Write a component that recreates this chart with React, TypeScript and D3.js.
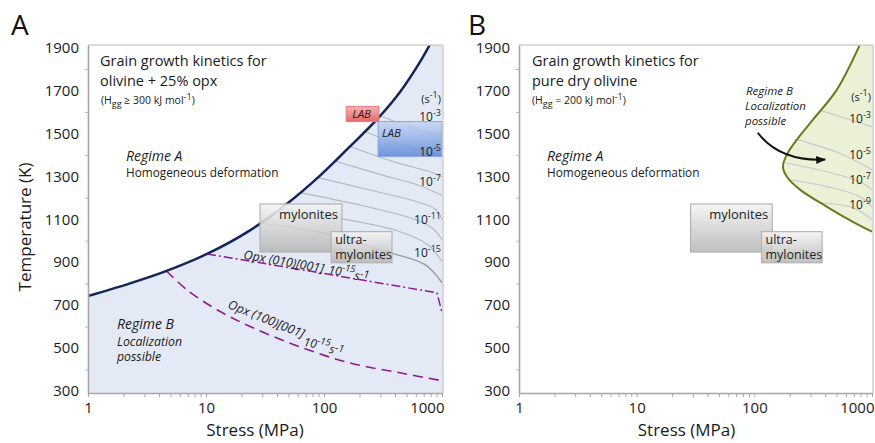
import { useEffect, useRef } from "react";
import * as d3 from "d3";

type Pt = [number, number];

// axis values
const stressLabels = [1, 10, 100, 1000];
const tempLabels = [300, 500, 700, 900, 1100, 1300, 1500, 1700, 1900];
const tempTicks = d3.range(300, 2000, 100);

// panel A: boundary between regime A and B (stress MPa, T K)
const boundaryA: Pt[] = [
  [1, 742], [2.27, 801], [4.58, 858], [10.2, 938], [23.6, 1048], [48.6, 1172],
  [92.5, 1303], [166, 1439], [281, 1565], [441, 1693], [651, 1833], [873, 1959],
];
// strain-rate contours, panel A
const contoursA: Pt[][] = [
  [[298, 1582], [535, 1530], [1000, 1485]],
  [[222, 1509], [441, 1448], [1000, 1396]],
  [[166, 1439], [400, 1366], [791, 1321], [1000, 1298]],
  [[124, 1371], [298, 1309], [651, 1256], [1000, 1210]],
  [[89, 1294], [245, 1236], [651, 1177], [890, 1144], [1000, 1098]],
  [[62.6, 1224], [202, 1166], [535, 1107], [823, 1060], [1000, 1004]],
  [[42.4, 1149], [137, 1104], [441, 1042], [761, 981], [1000, 902]],
  [[28.7, 1082], [92.5, 1038], [362, 944], [718, 888], [1000, 804]],
];
const rateLabelsA = ["-3", "-5", "-7", "-11", "-15"];
const rateLabelTA = [1558, 1395, 1255, 1078, 924];

// opx slip-system lines, panel A
const opx010: Pt[] = [[10.2, 938], [80, 856], [907, 757], [1000, 664]];
const opx100: Pt[] = [
  [4.6, 860], [6.9, 771], [12.4, 678], [25, 594], [62.6, 505],
  [166, 430], [441, 384], [1000, 347],
];

// LAB boxes (stress range, T range)
const labRed = { s: [154, 292], t: [1555, 1625] };
const labBlue = { s: [287, 1000], t: [1392, 1555] };

// mylonite fields (same in both panels)
const mylonites = { s: [28.7, 142], t: [947, 1171] };
const ultramylonites = { s: [115, 377], t: [897, 1042] };

// panel B: regime B pocket
const boundaryB: Pt[] = [
  [789, 1914], [503, 1704], [315, 1564], [230, 1471], [189, 1401],
  [175, 1345], [189, 1298], [244, 1238], [414, 1158], [688, 1088], [1000, 1042],
];
const contoursB: Pt[][] = [
  [[375, 1606], [1000, 1531]],
  [[235, 1471], [566, 1401], [1000, 1331]],
  [[182, 1363], [414, 1321], [789, 1275], [1000, 1238]],
  [[201, 1284], [414, 1252], [789, 1205], [1000, 1158]],
  [[347, 1177], [688, 1154], [1000, 1098]],
];
const rateLabelsB = ["-3", "-5", "-7", "-9"];
const rateLabelTB = [1548, 1381, 1264, 1148];

const y = d3.scaleLinear().domain([290, 1912]).range([393, 45]);
const xA = d3.scaleLog().domain([1, 1000]).range([88, 442]);
const xB = d3.scaleLog().domain([1, 1000]).range([519, 872]);

const FONT = '"Open Sans", "Noto Sans", sans-serif';

function Axes({ x }: { x: d3.ScaleLogarithmic<number, number> }) {
  const gx = useRef<SVGGElement | null>(null);
  const gy = useRef<SVGGElement | null>(null);

  useEffect(() => {
    const axX = d3.axisBottom(x)
      .tickValues(x.ticks())
      .tickFormat(d => (stressLabels.includes(+d) ? String(d) : ""))
      .tickSize(4)
      .tickSizeOuter(0)
      .tickPadding(5);
    const sx = d3.select(gx.current!)
      .attr("transform", `translate(0,${y.range()[0]})`)
      .call(axX);
    sx.select(".domain").attr("stroke", "#a6a6a6").attr("stroke-width", 1.6);
    sx.selectAll(".tick line").attr("stroke", "#a6a6a6");
    sx.selectAll(".tick text")
      .attr("font-size", 15)
      .attr("font-family", FONT)
      .attr("fill", "#1a1a1a");
    sx.selectAll<SVGTextElement, number>(".tick text")
      .filter(d => d === 1000)
      .attr("text-anchor", "end")
      .attr("dx", 2);

    const axY = d3.axisLeft(y)
      .tickValues(tempTicks)
      .tickFormat(d => (tempLabels.includes(+d) ? String(d) : ""))
      .tickSize(3)
      .tickSizeOuter(0)
      .tickPadding(6);
    const sy = d3.select(gy.current!)
      .attr("transform", `translate(${x.range()[0]},0)`)
      .call(axY);
    sy.select(".domain").attr("stroke", "#a6a6a6").attr("stroke-width", 1.6);
    sy.selectAll<SVGLineElement, number>(".tick line")
      .attr("stroke", d => (tempLabels.includes(d) ? "none" : "#b5b5b5"));
    sy.selectAll(".tick text")
      .attr("font-size", 15)
      .attr("font-family", FONT)
      .attr("fill", "#1a1a1a");
  }, [x]);

  return (
    <g>
      <g ref={gx} />
      <g ref={gy} />
    </g>
  );
}

function Rate({ x, yy, exp }: { x: number; yy: number; exp: string }) {
  return (
    <text x={x} y={yy} textAnchor="end" fontSize={12} fill="#222">
      10<tspan dy={-5} fontSize={9}>{exp}</tspan>
    </text>
  );
}

function Unit({ x, yy }: { x: number; yy: number }) {
  return (
    <text x={x} y={yy} textAnchor="end" fontSize={11} fill="#222">
      (s<tspan dy={-5} fontSize={9}>-1</tspan>
      <tspan dy={5}>)</tspan>
    </text>
  );
}

function Box({ x, b, id }: { x: d3.ScaleLogarithmic<number, number>; b: { s: number[]; t: number[] }; id: string }) {
  return (
    <rect
      x={x(b.s[0])}
      y={y(b.t[1])}
      width={x(b.s[1]) - x(b.s[0])}
      height={y(b.t[0]) - y(b.t[1])}
      fill={`url(#${id})`}
      stroke="#b3b3b3"
      strokeWidth={1.2}
    />
  );
}

function RateText({ x, yy, angle }: { x: number; yy: number; angle: number }) {
  return (
    <text transform={`translate(${x},${yy}) rotate(${angle})`} fontSize={12} fontStyle="italic" fill="#222">
      10<tspan dy={-5} fontSize={9.5}>-15</tspan>
      <tspan dy={7}>s</tspan>
      <tspan dy={-3} fontSize={10.5}>-1</tspan>
    </text>
  );
}

export default function App() {
  const top = y.range()[1];
  const bottom = y.range()[0];

  const lineA = d3.line<Pt>().x(d => xA(d[0])).y(d => y(d[1])).curve(d3.curveCatmullRom.alpha(0.5));
  const lineB = d3.line<Pt>().x(d => xB(d[0])).y(d => y(d[1])).curve(d3.curveCatmullRom.alpha(0.5));
  const lineALin = d3.line<Pt>().x(d => xA(d[0])).y(d => y(d[1]));

  const fillA =
    lineA(boundaryA) +
    `L${xA(1000) + 2},${y(1960)}L${xA(1000) + 2},${bottom}L${xA(1)},${bottom}Z`;
  const fillB = lineB(boundaryB) + `L${xB(1000) + 2},${y(1042)}L${xB(1000) + 2},${y(1914)}Z`;

  const arrowPath = `M${xB(107)},${y(1503)}Q${xB(165)},${y(1368)} ${xB(400)},${y(1378)}`;

  return (
    <svg
      width={875}
      height={443}
      style={{ position: "absolute", left: 0, top: 0, background: "#fff" }}
      fontFamily={FONT}
    >
      <defs>
        <clipPath id="clipA">
          <rect x={xA(1)} y={top} width={xA(1000) - xA(1) + 1} height={bottom - top} />
        </clipPath>
        <clipPath id="clipB">
          <rect x={xB(1)} y={top} width={xB(1000) - xB(1) + 1} height={bottom - top} />
        </clipPath>
        <linearGradient id="grayBox" x1="0" y1="0" x2="0" y2="1">
          <stop offset="0" stopColor="#f4f4f4" stopOpacity={0.9} />
          <stop offset="1" stopColor="#b4b4b4" stopOpacity={0.85} />
        </linearGradient>
        <linearGradient id="redBox" x1="0" y1="0" x2="0" y2="1">
          <stop offset="0" stopColor="#f6b3b3" />
          <stop offset="1" stopColor="#e26a6a" />
        </linearGradient>
        <linearGradient id="blueBox" x1="0" y1="0" x2="0" y2="1">
          <stop offset="0" stopColor="#c6d6f2" stopOpacity={0.85} />
          <stop offset="1" stopColor="#5a86d8" stopOpacity={0.85} />
        </linearGradient>
        <marker id="arrow" markerUnits="userSpaceOnUse" markerWidth={10} markerHeight={8} refX={9} refY={4} orient="auto">
          <path d="M0,0 L10,4 L0,8 Z" fill="#111" />
        </marker>
      </defs>

      <text x={11} y={35} fontSize={28} fill="#111">A</text>
      <text x={468} y={35} fontSize={28} fill="#111">B</text>

      {/* ---------- Panel A ---------- */}
      <g clipPath="url(#clipA)">
        <path d={fillA} fill="#e4eaf5" />
        {contoursA.map((c, i) => (
          <path key={i} d={lineA(c) || ""} fill="none" stroke={i >= 7 ? "#9a9ca4" : "#b4b8c2"} strokeWidth={i >= 7 ? 1.4 : 1.1} />
        ))}
        <path d={lineALin(opx010) || ""} fill="none" stroke="#8e1b8e" strokeWidth={1.5} strokeDasharray="9,3,2,3" />
        <path d={lineA(opx100) || ""} fill="none" stroke="#8e1b8e" strokeWidth={1.6} strokeDasharray="10,6" />
        <path d={lineA(boundaryA) || ""} fill="none" stroke="#142659" strokeWidth={2.5} />
        <rect
          x={xA(labRed.s[0])}
          y={y(labRed.t[1])}
          width={xA(labRed.s[1]) - xA(labRed.s[0])}
          height={y(labRed.t[0]) - y(labRed.t[1])}
          fill="url(#redBox)"
          stroke="#e77a7a"
        />
        <rect
          x={xA(labBlue.s[0])}
          y={y(labBlue.t[1])}
          width={xA(labBlue.s[1]) - xA(labBlue.s[0])}
          height={y(labBlue.t[0]) - y(labBlue.t[1])}
          fill="url(#blueBox)"
          stroke="#86a6e2"
        />
        <Box x={xA} b={mylonites} id="grayBox" />
        <Box x={xA} b={ultramylonites} id="grayBox" />
      </g>
      <line x1={xA(1)} x2={xA(1000) + 1} y1={top} y2={top} stroke="#cfcfcf" strokeWidth={1.5} />
      <line x1={xA(1000) + 1} x2={xA(1000) + 1} y1={top} y2={bottom} stroke="#cfcfcf" strokeWidth={1.5} />
      <Axes x={xA} />

      <text x={xA(labRed.s[0]) + 6} y={y(labRed.t[0]) - 4} fontSize={11.5} fontStyle="italic" fill="#3a1010">LAB</text>
      <text x={xA(labBlue.s[0]) + 4} y={y(labBlue.t[1]) + 15} fontSize={11.5} fontStyle="italic" fill="#1a1a2a">LAB</text>

      <Unit x={441} yy={y(1642)} />
      {rateLabelsA.map((e, i) => (
        <Rate key={e} x={441} yy={y(rateLabelTA[i])} exp={e} />
      ))}

      <text x={xA(mylonites.s[1]) - 4} y={y(mylonites.t[1]) + 15} textAnchor="end" fontSize={13} fill="#222">mylonites</text>
      <text x={xA(ultramylonites.s[0]) + 4} y={y(ultramylonites.t[1]) + 12} fontSize={12.5} fill="#222">ultra-</text>
      <text x={xA(ultramylonites.s[0]) + 4} y={y(ultramylonites.t[1]) + 27} fontSize={12.5} fill="#222">mylonites</text>

      <text transform={`translate(${xA(20.6)},${y(916)}) rotate(10)`} fontSize={12.5} fontStyle="italic" fill="#222">Opx (010)[001]</text>
      <RateText x={xA(108)} yy={y(846)} angle={8} />
      <text transform={`translate(${xA(15.1)},${y(687)}) rotate(22)`} fontSize={12.5} fontStyle="italic" fill="#222">Opx (100)[001]</text>
      <RateText x={xA(66.4)} yy={y(510)} angle={11} />

      <text x={100} y={66} fontSize={14.5} fill="#1a1a1a">Grain growth kinetics for</text>
      <text x={100} y={86} fontSize={14.5} fill="#1a1a1a">olivine + 25% opx</text>
      <text x={101} y={104} fontSize={10.5} fill="#1a1a1a">
        (H<tspan dy={3} fontSize={9}>gg</tspan>
        <tspan dy={-3}> ≥ 300 kJ mol</tspan>
        <tspan dy={-4} fontSize={9}>-1</tspan>
        <tspan dy={4}>)</tspan>
      </text>
      <text x={126} y={161} fontSize={14} fontStyle="italic" fill="#1a1a1a">Regime A</text>
      <text x={126} y={177} fontSize={11.8} fill="#1a1a1a">Homogeneous deformation</text>
      <text x={117} y={329} fontSize={14} fontStyle="italic" fill="#1a1a1a">Regime B</text>
      <text x={117} y={346} fontSize={12.3} fontStyle="italic" fill="#1a1a1a">Localization</text>
      <text x={117} y={361} fontSize={12.3} fontStyle="italic" fill="#1a1a1a">possible</text>

      <text transform="translate(31,227) rotate(-90)" textAnchor="middle" fontSize={17} fill="#1a1a1a">Temperature (K)</text>
      <text x={(xA(1) + xA(1000)) / 2 - 10} y={436} textAnchor="middle" fontSize={17} fill="#1a1a1a">Stress (MPa)</text>

      {/* ---------- Panel B ---------- */}
      <g clipPath="url(#clipB)">
        <path d={fillB} fill="#ebf1d7" />
        {contoursB.map((c, i) => (
          <path key={i} d={lineB(c) || ""} fill="none" stroke="#c4c8cf" strokeWidth={1.1} />
        ))}
        <path d={lineB(boundaryB) || ""} fill="none" stroke="#6a7a1c" strokeWidth={2} />
        <Box x={xB} b={mylonites} id="grayBox" />
        <Box x={xB} b={ultramylonites} id="grayBox" />
      </g>
      <line x1={xB(1)} x2={xB(1000) + 1} y1={top} y2={top} stroke="#cfcfcf" strokeWidth={1.5} />
      <line x1={xB(1000) + 1} x2={xB(1000) + 1} y1={top} y2={bottom} stroke="#cfcfcf" strokeWidth={1.5} />
      <Axes x={xB} />

      <Unit x={871} yy={y(1651)} />
      {rateLabelsB.map((e, i) => (
        <Rate key={e} x={871} yy={y(rateLabelTB[i])} exp={e} />
      ))}

      <text x={xB(mylonites.s[1]) - 4} y={y(mylonites.t[1]) + 15} textAnchor="end" fontSize={13} fill="#222">mylonites</text>
      <text x={xB(ultramylonites.s[0]) + 4} y={y(ultramylonites.t[1]) + 12} fontSize={12.5} fill="#222">ultra-</text>
      <text x={xB(ultramylonites.s[0]) + 4} y={y(ultramylonites.t[1]) + 27} fontSize={12.5} fill="#222">mylonites</text>

      <path d={arrowPath} fill="none" stroke="#111" strokeWidth={2} markerEnd="url(#arrow)" />
      <text x={746} y={95} fontSize={11.5} fontStyle="italic" fill="#1a1a1a">Regime B</text>
      <text x={745} y={110} fontSize={11.5} fontStyle="italic" fill="#1a1a1a">Localization</text>
      <text x={745} y={125} fontSize={11.5} fontStyle="italic" fill="#1a1a1a">possible</text>

      <text x={532} y={66} fontSize={14.5} fill="#1a1a1a">Grain growth kinetics for</text>
      <text x={532} y={86} fontSize={14.5} fill="#1a1a1a">pure dry olivine</text>
      <text x={532} y={104} fontSize={10.5} fill="#1a1a1a">
        (H<tspan dy={3} fontSize={9}>gg</tspan>
        <tspan dy={-3}> = 200 kJ mol</tspan>
        <tspan dy={-4} fontSize={9}>-1</tspan>
        <tspan dy={4}>)</tspan>
      </text>
      <text x={547} y={161} fontSize={14} fontStyle="italic" fill="#1a1a1a">Regime A</text>
      <text x={547} y={177} fontSize={11.8} fill="#1a1a1a">Homogeneous deformation</text>

      <text x={(xB(1) + xB(1000)) / 2 - 9} y={436} textAnchor="middle" fontSize={17} fill="#1a1a1a">Stress (MPa)</text>
    </svg>
  );
}
